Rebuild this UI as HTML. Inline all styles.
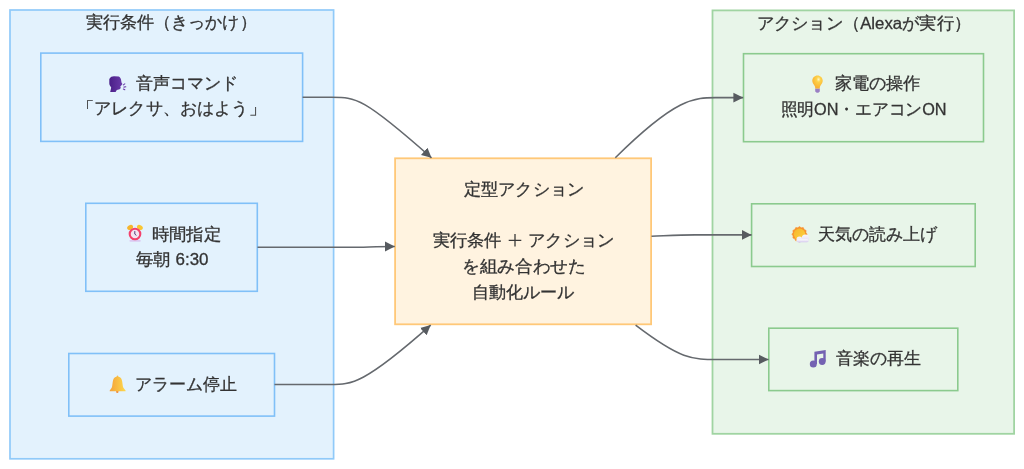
<!DOCTYPE html>
<html><head><meta charset="utf-8">
<style>
html,body{margin:0;padding:0;background:#fff;width:1024px;height:469px;overflow:hidden}
svg{position:absolute;left:0;top:0;will-change:transform}
text{font-family:"Liberation Sans",sans-serif;fill:#333;stroke:#333;stroke-width:0.3px}
</style></head><body>
<svg width="1024" height="469" viewBox="0 0 1024 469">
<defs>
<marker id="ah" viewBox="0 0 10 10" refX="10" refY="5" markerWidth="9.8" markerHeight="10.4" markerUnits="userSpaceOnUse" orient="auto">
<path d="M0,0 L10,5 L0,10 z" fill="#575b60"/>
</marker>
</defs>
<rect x="10" y="10" width="323.6" height="448.8" fill="#e3f2fd" stroke="#90caf9" stroke-width="1.7"/>
<rect x="712.5" y="10.4" width="301.6" height="423.4" fill="#e8f5e9" stroke="#a0d4a2" stroke-width="1.8"/>
<rect x="40.8" y="53.1" width="261.8" height="88.3" fill="#e3f2fd" stroke="#80c0f8" stroke-width="1.6"/>
<rect x="85.8" y="203.3" width="171.5" height="88" fill="#e3f2fd" stroke="#80c0f8" stroke-width="1.6"/>
<rect x="68.8" y="353.5" width="205.7" height="62.6" fill="#e3f2fd" stroke="#80c0f8" stroke-width="1.6"/>
<rect x="395.1" y="158.3" width="256" height="166" fill="#fff3e0" stroke="#ffc878" stroke-width="1.8"/>
<rect x="743.5" y="53.7" width="240" height="88" fill="#e8f5e9" stroke="#8bca8e" stroke-width="1.6"/>
<rect x="751.6" y="203.8" width="223.6" height="62.7" fill="#e8f5e9" stroke="#8bca8e" stroke-width="1.6"/>
<rect x="768.8" y="328.2" width="189" height="62.4" fill="#e8f5e9" stroke="#8bca8e" stroke-width="1.6"/>
<g fill="none" stroke="#65696e" stroke-width="1.6">
<path d="M302.6,97.3 L330,97.3 C356.0,97.3 362.0,96.3 431.5,157.8" marker-end="url(#ah)"/>
<path d="M257.5,247.3 L350,247.3 C365,247.3 375,246.5 394.8,246.5" marker-end="url(#ah)"/>
<path d="M274.5,384.5 L330,384.5 C352.0,384.5 364.0,384.1 430.7,325.1" marker-end="url(#ah)"/>
<path d="M615.3,157.7 C679.3,94.6 696.0,97.6 720.0,97.6 L743.2,97.6" marker-end="url(#ah)"/>
<path d="M651.5,236.2 C670,235.5 680,234.9 695,234.9 L751.6,234.9" marker-end="url(#ah)"/>
<path d="M635.6,325.2 C681.6,360.2 692.0,359.5 720.0,359.5 L768.6,359.5" marker-end="url(#ah)"/>
</g>
<text x="85.50" y="27.95" font-size="16.50" textLength="171.21" lengthAdjust="spacingAndGlyphs">実行条件（きっかけ）</text>
<text x="756.50" y="28.60" font-size="16.50" textLength="214.77" lengthAdjust="spacingAndGlyphs">アクション（Alexaが実行）</text>
<text x="135.50" y="88.80" font-size="16.50" textLength="102.03" lengthAdjust="spacingAndGlyphs">音声コマンド</text>
<text x="77.00" y="114.40" font-size="16.50" textLength="188.72" lengthAdjust="spacingAndGlyphs">「アレクサ、おはよう」</text>
<text x="151.50" y="239.60" font-size="16.50" textLength="69.59" lengthAdjust="spacingAndGlyphs">時間指定</text>
<text x="136.00" y="265.40" font-size="16.50" textLength="72.54" lengthAdjust="spacingAndGlyphs">毎朝 6:30</text>
<text x="135.00" y="389.70" font-size="16.50" textLength="102.09" lengthAdjust="spacingAndGlyphs">アラーム停止</text>
<text x="464.00" y="195.30" font-size="16.50" textLength="120.01" lengthAdjust="spacingAndGlyphs">定型アクション</text>
<text x="432.50" y="246.10" font-size="16.50" textLength="182.01" lengthAdjust="spacingAndGlyphs">実行条件 　 アクション</text>
<text x="462.00" y="271.70" font-size="16.50" textLength="123.63" lengthAdjust="spacingAndGlyphs">を組み合わせた</text>
<text x="471.50" y="297.50" font-size="16.50" textLength="102.54" lengthAdjust="spacingAndGlyphs">自動化ルール</text>
<text x="834.50" y="89.40" font-size="16.50" textLength="86.02" lengthAdjust="spacingAndGlyphs">家電の操作</text>
<text x="780.50" y="115.20" font-size="16.50" textLength="166.05" lengthAdjust="spacingAndGlyphs">照明ON・エアコンON</text>
<text x="817.50" y="240.30" font-size="16.50" textLength="119.03" lengthAdjust="spacingAndGlyphs">天気の読み上げ</text>
<text x="836.00" y="364.10" font-size="16.50" textLength="85.03" lengthAdjust="spacingAndGlyphs">音楽の再生</text>

<defs>
<linearGradient id="gHead" x1="0" y1="0" x2="1" y2="0"><stop offset="0" stop-color="#4a2088"/><stop offset="1" stop-color="#6a3aa8"/></linearGradient>
<linearGradient id="gBell" x1="0" y1="0" x2="1" y2="0"><stop offset="0" stop-color="#f4a23a"/><stop offset="1" stop-color="#fdd84c"/></linearGradient>
<radialGradient id="gBulb" cx="0.6" cy="0.3" r="0.8"><stop offset="0" stop-color="#fff6c0"/><stop offset="0.25" stop-color="#fdd24a"/><stop offset="1" stop-color="#f8a62c"/></radialGradient>
<linearGradient id="gSun" x1="0" y1="0" x2="1" y2="1"><stop offset="0" stop-color="#f6b52e"/><stop offset="1" stop-color="#fdd43e"/></linearGradient>
<linearGradient id="gCloud" x1="0" y1="0" x2="0" y2="1"><stop offset="0" stop-color="#f7f6fa"/><stop offset="0.6" stop-color="#ebe6f5"/><stop offset="1" stop-color="#cfc2ee"/></linearGradient>
</defs>
<g transform="translate(106,73)">
<path d="M3.3,6.1 C4.5,4 6,3.3 8,3.3 L12.7,3.5 C14,4 14.6,5 15,6.5 L15.5,9.4 L16.4,11 L15.5,12.2 L14.3,13.6 L14.8,15 L13.6,16.2 L10.8,16.9 L9.6,18.9 L4.2,19 L5.2,14.5 C4,13 3.2,11.5 3.3,10.3 Z" fill="url(#gHead)"/>
<path d="M17.4,11.9 L18.8,10.9 M17.9,14.1 L19.8,13.8 M17.4,16.1 L18.8,16.8" stroke="#6a3aa8" stroke-width="1.1" stroke-linecap="round" fill="none"/>
</g>
<g transform="translate(124,222)">
<ellipse cx="6.1" cy="5.4" rx="3.1" ry="2.3" transform="rotate(-30 6.1 5.4)" fill="#f5b52e"/>
<ellipse cx="15.9" cy="5.4" rx="3.1" ry="2.3" transform="rotate(30 15.9 5.4)" fill="#f9c634"/>
<rect x="5.4" y="17.9" width="11.4" height="1.8" rx="0.9" fill="#dccaf2"/>
<circle cx="11" cy="12" r="5.3" fill="#f2e4f0" stroke="#f4416c" stroke-width="2.1"/>
<path d="M10.8,9.1 L10.8,12.1 L12.4,13.4" stroke="#5a3a7a" stroke-width="1" fill="none"/>
</g>
<g transform="translate(106,373)">
<circle cx="11.3" cy="18.7" r="1.2" fill="#f08a3a"/>
<path d="M11.5,2.4 C12.2,2.4 12.3,3.2 12.5,3.8 C14.8,4.3 15.8,6 16.2,8.5 L16.9,13.6 C17.3,15.5 19,16.5 19.6,17.6 L19.6,18.3 L3.7,18.3 L3.7,17.6 C4.3,16.5 5.8,15.5 6.1,13.6 L6.8,8.5 C7.2,6 8.2,4.3 10.5,3.8 C10.7,3.2 10.8,2.4 11.5,2.4 Z" fill="url(#gBell)"/>
</g>
<g transform="translate(806,73)">
<path d="M9.2,15.6 L13.8,15.6 L13.8,18.6 L12.3,19.7 L10.7,19.7 L9.2,18.6 Z" fill="#9a80c4"/>
<path d="M11.5,2.5 C14.4,2.5 16.7,4.8 16.7,7.7 C16.7,9.6 15.6,10.9 14.7,12.2 C14,13.2 13.7,14.3 13.7,15.6 L9.3,15.6 C9.3,14.3 9,13.2 8.3,12.2 C7.4,10.9 6.3,9.6 6.3,7.7 C6.3,4.8 8.6,2.5 11.5,2.5 Z" fill="url(#gBulb)"/>
</g>
<g transform="translate(788,223)">
<path d="M11.50,3.60 L13.21,4.82 L15.30,4.62 L16.17,6.53 L18.08,7.40 L17.88,9.49 L19.10,11.20 L17.88,12.91 L18.08,15.00 L16.17,15.87 L15.30,17.78 L13.21,17.58 L11.50,18.80 L9.79,17.58 L7.70,17.78 L6.83,15.87 L4.92,15.00 L5.12,12.91 L3.90,11.20 L5.12,9.49 L4.92,7.40 L6.83,6.53 L7.70,4.62 L9.79,4.82 Z" fill="#f8922e" stroke="#f8922e" stroke-width="0.6" stroke-linejoin="round"/>
<circle cx="11.5" cy="11.2" r="5.7" fill="url(#gSun)"/>
<g fill="url(#gCloud)">
<circle cx="11.4" cy="16.4" r="2.9"/>
<circle cx="17.3" cy="15.2" r="3.6"/>
<rect x="8.6" y="16" width="12.1" height="3.2" rx="1.6"/>
</g>
</g>
<g transform="translate(806,347)" fill="#7462b2">
<path d="M8.4,4.7 L19.7,3.1 L19.7,14.5 L17.3,14.5 L17.3,6.6 L11,7.6 L11,16.9 L8.4,16.9 Z"/>
<circle cx="7.3" cy="16.9" r="3.5"/>
<circle cx="16.2" cy="14.5" r="3.4"/>
</g>
<g id="plus" stroke="#3a3a3a" stroke-width="1.3"><path d="M508.7,240.3 L521.3,240.3 M515,234 L515,246.6"/></g>
</svg>
</body></html>
